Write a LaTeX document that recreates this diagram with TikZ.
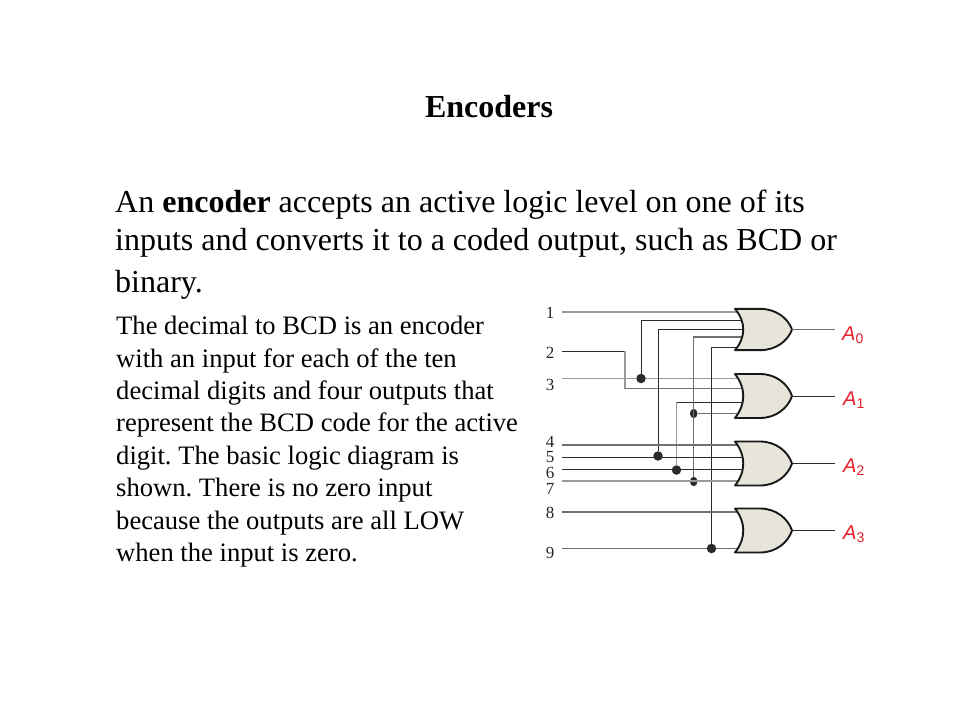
\documentclass[tikz,border=0pt]{standalone}
\usepackage{fontspec}
\setmainfont{Liberation Serif}
\newfontfamily\labelsans{Liberation Sans}
\definecolor{gatefill}{HTML}{E7E5DA}
\definecolor{wiregray}{HTML}{9A9A9A}
\definecolor{wiremid}{HTML}{707070}
\definecolor{wiredark}{HTML}{2A2A2A}
\definecolor{outred}{HTML}{E8202A}
\tikzset{
  x=1pt,y=-1pt,
  wirelight/.style={draw=wiregray,line width=1.4pt},
  wiremedium/.style={draw=wiremid,line width=1.2pt},
  wireblack/.style={draw=wiredark,line width=1pt},
  jdot/.style={circle,fill=wiredark,draw=none,inner sep=0pt,minimum size=9.5pt},
  numlabel/.style={font=\fontsize{17}{18}\selectfont,inner sep=0pt,text=black!85},
  outlabel/.style={font=\labelsans\itshape\fontsize{20}{20}\selectfont,text=outred,inner sep=0pt,anchor=base west},
  orgate/.pic={
    \path[fill=gatefill,draw=black!90,line width=1.9pt,line join=round]
      (-3,-22) -- (22,-22) .. controls (38,-22) and (50,-12) .. (54,0)
      .. controls (50,12) and (38,22) .. (22,22) -- (-3,22)
      .. controls (8,8) and (8,-8) .. (-3,-22) -- cycle;
    \coordinate (-out) at (54,0);
  }
}
\begin{document}
\frenchspacing
\begin{tikzpicture}
\path[use as bounding box,fill=white] (0,0) rectangle (960,720);

\node[anchor=base,font=\bfseries\fontsize{32}{32}\selectfont,inner sep=0pt] (title) at (489,117) {Encoders};

\node[anchor=north west,align=left,inner sep=0pt,font=\fontsize{32}{38.5}\selectfont] (lead) at (115,189.5)
 {An \textbf{encoder} accepts an active logic level on one of its\\
  inputs and converts it to a coded output, such as BCD or\\[3pt]
  binary.};

\node[anchor=north west,align=left,inner sep=0pt,font=\fontsize{26.6}{32.4}\selectfont] (body) at (116,316)
 {The decimal to BCD is an encoder\\
  with an input for each of the ten\\
  decimal digits and four outputs that\\
  represent the BCD code for the active\\
  digit. The basic logic diagram is\\
  shown. There is no zero input\\
  because the outputs are all LOW\\
  when the input is zero.};

% input numbers
\node[numlabel] (n1) at (550,313) {1};
\node[numlabel] (n2) at (550,353) {2};
\node[numlabel] (n3) at (550,385) {3};
\node[numlabel] (n4) at (550,441.5) {4};
\node[numlabel] (n5) at (550,457) {5};
\node[numlabel] (n6) at (550,473) {6};
\node[numlabel] (n7) at (550,489) {7};
\node[numlabel] (n8) at (550,513) {8};
\node[numlabel] (n9) at (550,553) {9};

% wire start points
\coordinate (s1) at (562,312);
\coordinate (s2) at (562,351);
\coordinate (s3) at (562,378.5);
\coordinate (s4) at (562,445);
\coordinate (s5) at (562,457);
\coordinate (s6) at (562,469);
\coordinate (s7) at (562,481);
\coordinate (s8) at (562,512);
\coordinate (s9) at (562,548.5);

% junction dots
\node[jdot] (d3) at (641,378.5) {};
\node[jdot] (d5) at (658,456) {};
\node[jdot] (d6) at (676.5,470) {};
\node[jdot,minimum size=7.5pt,yscale=1.25] (d7) at (693.7,481.5) {};
\node[jdot,minimum size=7.5pt,yscale=1.25] (d3b) at (693.7,413.5) {};
\node[jdot] (d9) at (711.5,548.5) {};

% gate-side points
\coordinate (a1) at (745,312);
\coordinate (a2) at (745,320);
\coordinate (a3) at (745,329);
\coordinate (a4) at (745,337);
\coordinate (a5) at (745,347.5);
\coordinate (b1) at (745,378.5);
\coordinate (b2) at (745,388.5);
\coordinate (b3) at (745,402);
\coordinate (b4) at (745,413.5);
\coordinate (c1) at (745,445);
\coordinate (c2) at (745,457);
\coordinate (c3) at (745,469);
\coordinate (c4) at (745,481);
\coordinate (e1) at (745,512);
\coordinate (e2) at (745,548.5);

% bends
\coordinate (k2a) at (625,351);
\coordinate (k2b) at (625,388.5);
\coordinate (k3) at (641,320);
\coordinate (k5) at (658,329);
\coordinate (k6) at (676.5,402);
\coordinate (k7) at (693.7,337);
\coordinate (k9) at (711.5,347.5);

% wires
\draw[wirelight] (s1) -- (a1);
\draw[wirelight] (s3) -- (d3) -- (b1);
\draw[wireblack] (s2) -- (k2a);
\draw[wirelight] (k2a) -- (k2b);
\draw[wiremedium] (k2b) -- (b2);
\draw[wireblack] (a2) -- (k3) -- (d3);
\draw[wireblack] (a3) -- (k5) -- (d5);
\draw[wireblack] (b3) -- (k6);
\draw[wirelight] (k6) -- (d6);
\draw[wiremedium] (a4) -- (k7) -- (d7);
\draw[wiremedium] (d3b) -- (b4);
\draw[wireblack] (a5) -- (k9) -- (d9);
\draw[wiremedium] (s4) -- (c1);
\draw[wireblack] (s5) -- (c2);
\draw[wireblack] (s6) -- (c3);
\draw[wirelight] (s7) -- (c4);
\draw[wiremedium] (s8) -- (e1);
\draw[wiremedium] (s9) -- (d9) -- (e2);

% gates
\pic[yscale=.94] (g0) at (738,329.5) {orgate};
\pic (g1) at (738,396) {orgate};
\pic (g2) at (738,463.5) {orgate};
\pic (g3) at (738,530.5) {orgate};

% outputs
\coordinate (o0) at (835,329.5);
\coordinate (o1) at (835,396);
\coordinate (o2) at (835,463.5);
\coordinate (o3) at (835,530.5);
\draw[wiremedium] (g0-out) -- (o0);
\draw[wireblack] (g1-out) -- (o1);
\draw[wireblack] (g2-out) -- (o2);
\draw[wireblack] (g3-out) -- (o3);

\node[outlabel] (A0) at (842,340) {A\textsubscript{\upshape 0}};
\node[outlabel] (A1) at (843,405) {A\textsubscript{\upshape 1}};
\node[outlabel] (A2) at (843,472) {A\textsubscript{\upshape 2}};
\node[outlabel] (A3) at (843,539) {A\textsubscript{\upshape 3}};
\end{tikzpicture}
\end{document}
